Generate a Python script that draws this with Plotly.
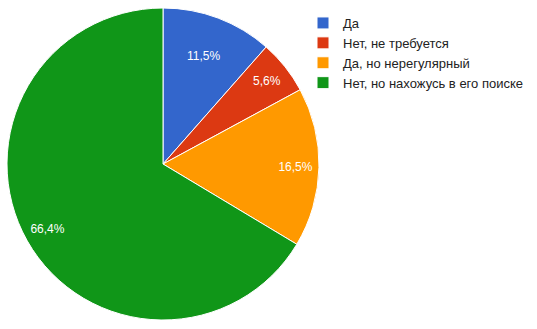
import plotly.graph_objects as go

labels = ["Да", "Нет, не требуется", "Да, но нерегулярный", "Нет, но нахожусь в его поиске"]
values = [11.5, 5.6, 16.5, 66.4]
text_labels = ["11,5%", "5,6%", "16,5%", "66,4%"]
colors = ["#3366cc", "#dc3912", "#ff9900", "#109618"]

W, H = 537, 329
cx, cy, r = 163, 164, 156
dom = dict(x=[(cx - r) / W, (cx + r) / W], y=[(H - cy - r) / H, (H - cy + r) / H])
font = dict(family="Liberation Sans, Arial", size=12, color="white")

fig = go.Figure()
# main pie (first label placed by plotly inside the slice)
fig.add_trace(go.Pie(
    labels=labels,
    values=values,
    text=[text_labels[0], "", "", ""],
    textinfo="text",
    textposition="inside",
    insidetextorientation="horizontal",
    sort=False,
    direction="clockwise",
    rotation=0,
    marker=dict(colors=colors, line=dict(color="white", width=1)),
    textfont=font,
    hoverinfo="label+percent",
    domain=dom,
))
# transparent ring carrying the remaining labels near the rim
fig.add_trace(go.Pie(
    labels=labels,
    values=values,
    text=["", text_labels[1], text_labels[2], text_labels[3]],
    textinfo="text",
    textposition="inside",
    insidetextorientation="horizontal",
    hole=0.7,
    sort=False,
    direction="clockwise",
    rotation=0,
    marker=dict(colors=["rgba(0,0,0,0)"] * 4, line=dict(width=0)),
    textfont=font,
    hoverinfo="skip",
    showlegend=False,
    domain=dom,
))

fig.update_layout(
    width=W, height=H,
    margin=dict(l=0, r=0, t=0, b=0),
    paper_bgcolor="white",
    plot_bgcolor="white",
    showlegend=True,
    legend=dict(
        x=303 / W, y=1 - 8 / H, xanchor="left", yanchor="top",
        font=dict(family="Liberation Sans, Arial", size=13, color="#222222"),
        bgcolor="rgba(0,0,0,0)",
        tracegroupgap=0,
        itemwidth=30,
    ),
)

fig.write_html("out.html")
